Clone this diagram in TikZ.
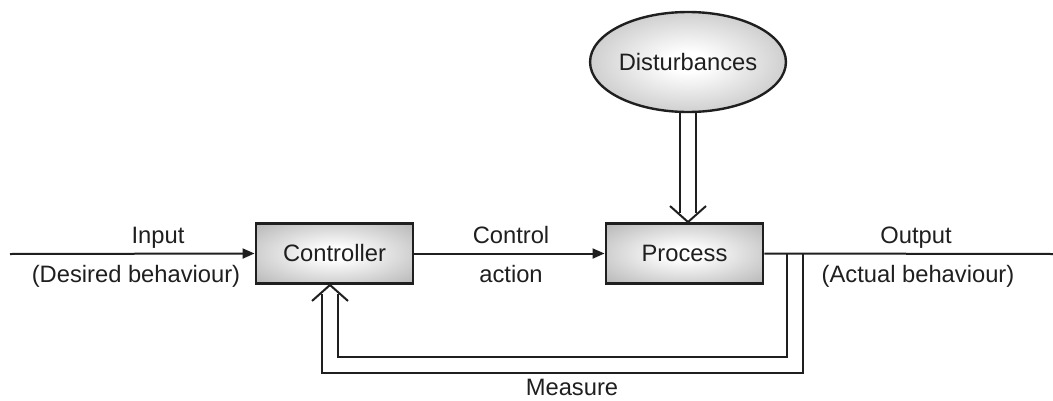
\documentclass[tikz,border=0pt]{standalone}
\usepackage{fontspec}
\setmainfont{Liberation Sans}
\usetikzlibrary{arrows.meta,calc,shapes.geometric}
% soft grey glow: white in the middle, grey towards the rim
\pgfdeclareradialshading{glow}{\pgfpoint{0bp}{0bp}}{color(0bp)=(white); color(5bp)=(white); color(50bp)=(black!42); color(71bp)=(black!52)}
\begin{document}
\begin{tikzpicture}[x=0.75pt,y=-0.75pt,
  ink/.style={draw=black!88, line width=1.5pt},
  flow/.style={ink, -{Triangle[length=9pt,width=7.5pt]}},
  blockbox/.style={rectangle, draw=black!88, line width=2.2pt, shading=glow,
    minimum width=117.75pt, minimum height=45pt, inner sep=0pt,
    font=\fontsize{17.8}{21}\selectfont, text=black!88},
  cloud/.style={ellipse, draw=black!88, line width=1.8pt, shading=glow,
    minimum width=139.5pt, minimum height=75pt, inner sep=0pt,
    font=\fontsize{17.8}{21}\selectfont, text=black!88},
  lbl/.style={anchor=base, inner sep=0pt, font=\fontsize{17.8}{21}\selectfont, text=black!88}]
\useasboundingbox (0,0) rectangle (1053,400);

% blocks
\node[blockbox] (ctrl) at (334.5,253.5) {Controller};
\node[blockbox] (proc) at (684.5,253.5) {Process};
\node[cloud] (dist) at (688,62) {Disturbances};

% forward path
\coordinate (inL) at (10,254);
\coordinate (outR) at (1053,254);
\draw[flow] (inL) -- (ctrl.west);
\draw[flow] (ctrl.east) -- (proc.west);
\draw[ink] (proc.east) -- (outR);

% labels
\node[lbl] (tIn) at (158,243) {Input};
\node[lbl] (tDes) at (136,282) {(Desired behaviour)};
\node[lbl] (tCtl) at (511,243) {Control};
\node[lbl] (tAct) at (511,282) {action};
\node[lbl] (tOut) at (916,243) {Output};
\node[lbl] (tAB) at (918,282) {(Actual behaviour)};
\node[lbl] (tMea) at (572,395) {Measure};

% disturbance: hollow double arrow into the process
\coordinate (dTip) at (dist.south |- proc.north);
\draw[ink] ($(dist.south)+(-8,0)$) -- ($(dTip)+(-8,-8.9)$);
\draw[ink] ($(dist.south)+(8,0)$) -- ($(dTip)+(8,-8.9)$);
\draw[ink, line join=miter] ($(dTip)+(-18,-16)$) -- (dTip) -- ($(dTip)+(18,-16)$);

% measurement feedback: hollow double arrow back to the controller
\coordinate (tapA) at ($(proc.east)+(23,0)$);
\coordinate (tapB) at ($(proc.east)+(39,0)$);
\coordinate (fbTip) at ($(ctrl.south)+(-4.5,0)$);
\draw[ink] (tapA) -- ++(0,103) -| ($(fbTip)+(8,8.9)$);
\draw[ink] (tapB) -- ++(0,119) -| ($(fbTip)+(-8,8.9)$);
\draw[ink, line join=miter] ($(fbTip)+(-18,16)$) -- (fbTip) -- ($(fbTip)+(18,16)$);
\end{tikzpicture}
\end{document}
